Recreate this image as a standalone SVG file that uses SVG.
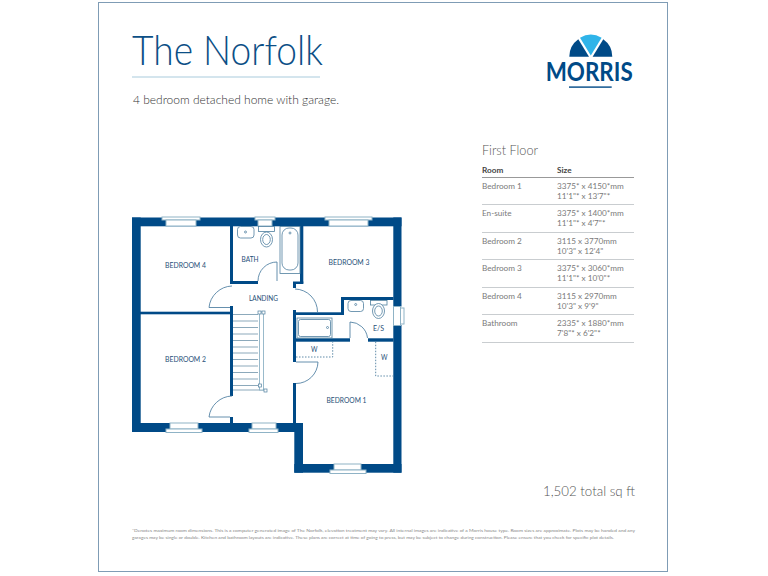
<svg xmlns="http://www.w3.org/2000/svg" width="768" height="576" viewBox="0 0 768 576">
<style>
text{font-family:"Lato","Noto Sans","Liberation Sans",sans-serif}
.wall{fill:#004a87}
.fix{fill:#fff;stroke:#4f7f9f;stroke-width:.8}
.win{fill:#fff;stroke:#8fb3c6;stroke-width:1}
.door{fill:none;stroke:#3f7499;stroke-width:.8}
.tread{stroke:#7f9fb3;stroke-width:.9}
.dash{fill:none;stroke:#4f7f9f;stroke-width:.9;stroke-dasharray:1.5 1.5}
.lbl{font-size:7.6px;fill:#1f4f78}
.t{font-size:8.2px;fill:#7a7a7a}
.hd{font-size:8.2px;fill:#444;font-weight:700}
.rule{stroke:#c9cdd0;stroke-width:1}
</style>
<rect width="768" height="576" fill="#fff"/>
<rect x="98.500" y="2.500" width="569" height="569" fill="none" stroke="#7f9cb5" stroke-width="1"/>
<g id="header">
<text x="132" y="65" font-size="41" font-weight="300" fill="#0c4f86" textLength="191" lengthAdjust="spacingAndGlyphs">The Norfolk</text>
<line x1="132" y1="77" x2="320" y2="77" stroke="#a9cbdc" stroke-width="1"/>
<text x="133" y="104" font-size="12" font-weight="300" fill="#333" textLength="206" lengthAdjust="spacingAndGlyphs">4 bedroom detached home with garage.</text>
</g>
<g id="logo">
<path d="M569.300 56.700A21.500 21.500 0 0 1 578.300 39.300L589 56.700Z" fill="#004a87"/>
<path d="M612.300 56.700A21.500 21.500 0 0 0 603.300 39.300L592.600 56.700Z" fill="#004a87"/>
<path d="M580 37.700A21.500 21.500 0 0 1 601.600 37.700L590.800 55.500Z" fill="#2fb4e9"/>
<text x="545.700" y="81" font-size="26" font-weight="700" fill="#004a87" textLength="87" lengthAdjust="spacingAndGlyphs">MORRIS</text>
<rect x="569" y="86.400" width="42.700" height="1.400" fill="#004a87"/>
</g>
<g id="plan">
<g id="walls" class="wall">
<rect x="132" y="217.500" width="8.700" height="214.500"/>
<rect x="132" y="217.500" width="269.500" height="8.800"/>
<rect x="393.300" y="217.500" width="8.200" height="89"/>
<rect x="393.300" y="325" width="8.200" height="147.700"/>
<rect x="132" y="423" width="171" height="9"/>
<rect x="294.300" y="423" width="8.700" height="49.700"/>
<rect x="294.300" y="464" width="107.200" height="8.700"/>
<rect x="230" y="226" width="3" height="58"/>
<rect x="233" y="281" width="25" height="3"/>
<rect x="140" y="311.700" width="93" height="2.600"/>
<rect x="230" y="306" width="3" height="90"/>
<rect x="230" y="417" width="3" height="6"/>
<rect x="300" y="226" width="3.300" height="57.500"/>
<rect x="293" y="281.500" width="10.300" height="2.500"/>
<rect x="293" y="283" width="3" height="5"/>
<rect x="293" y="310" width="3" height="52"/>
<rect x="293" y="312.300" width="51" height="2.700"/>
<rect x="341" y="297" width="3" height="18"/>
<rect x="341" y="297" width="52.500" height="3"/>
<rect x="293" y="338.300" width="57" height="3.400"/>
<rect x="368" y="338.300" width="25.500" height="3.400"/>
<rect x="293" y="383" width="3" height="40"/>
</g>
<g id="windows">
<rect x="162" y="217" width="38" height="3" class="win"/><rect x="166" y="220" width="30" height="6" class="win"/>
<rect x="255" y="217" width="20" height="3" class="win"/><rect x="258" y="220" width="14" height="6" class="win"/>
<rect x="325" y="217" width="47" height="3" class="win"/><rect x="329" y="220" width="39" height="6" class="win"/>
<rect x="393.500" y="306.500" width="7" height="19" class="win"/><rect x="400.500" y="308" width="3.500" height="16" class="win"/>
<rect x="170" y="423" width="28" height="6" class="win"/><rect x="166" y="429" width="36" height="3.500" class="win"/>
<rect x="252" y="423" width="24" height="6" class="win"/><rect x="249" y="429" width="29" height="3.500" class="win"/>
<rect x="334" y="464" width="27" height="6" class="win"/><rect x="330" y="470" width="36" height="3.500" class="win"/>
</g>
<g id="doors">
<path class="door" d="M232 286A24 24 0 0 0 209 307.500H230"/>
<path class="door" d="M258 281A19 19 0 0 1 277 262V281"/>
<path class="door" d="M295 289A23 23 0 0 1 317.500 312"/>
<path class="door" d="M350 338V322A18 18 0 0 1 367.500 338"/>
<path class="door" d="M296 362H318A22 22 0 0 1 296 383.500"/>
<path class="door" d="M232 396A24 24 0 0 0 209 417H230"/>
</g>
<g id="stairs">
<path class="tread" d="M233 314.500H258M233 321H258M233 327.500H258M233 334H258M233 340.500H258M233 347H258M233 353H258M233 359.500H258M233 366H258M233 372.500H258M233 379H258M233 385.500H258M233 390H264"/>
<rect x="259.500" y="312" width="4" height="78" fill="#fff" stroke="#8fb3c6" stroke-width=".9"/>
<rect x="258" y="311" width="3" height="3" fill="#fff" stroke="#4f7f9f" stroke-width=".7"/>
<rect x="262" y="311" width="3" height="3" fill="#fff" stroke="#4f7f9f" stroke-width=".7"/>
<rect x="258.500" y="384" width="3" height="3" fill="#fff" stroke="#4f7f9f" stroke-width=".7"/>
<rect x="264" y="389" width="3" height="3" fill="#fff" stroke="#4f7f9f" stroke-width=".7"/>
</g>
<g id="fixtures">
<rect class="fix" x="237.500" y="226.500" width="16.500" height="11.500" rx="3"/>
<circle class="fix" cx="245.500" cy="232" r="1"/>
<rect class="fix" x="258.500" y="226.500" width="16" height="5"/>
<ellipse class="fix" cx="266.500" cy="239.500" rx="6" ry="7.500"/><ellipse class="fix" cx="266.500" cy="239.500" rx="3.800" ry="5"/>
<rect class="fix" x="280" y="226.500" width="20" height="47"/>
<rect class="fix" x="282" y="228" width="16" height="42" rx="7"/>
<circle class="fix" cx="290" cy="233" r="1"/>
<rect class="fix" x="348" y="300.500" width="15.500" height="11" rx="3"/>
<circle class="fix" cx="355.700" cy="304.500" r="1"/>
<rect class="fix" x="370.500" y="300.500" width="16.500" height="4.500"/>
<ellipse class="fix" cx="378.500" cy="311" rx="6" ry="7.500"/><ellipse class="fix" cx="378.500" cy="311" rx="3.800" ry="5"/>
<rect class="fix" x="297" y="318" width="35" height="20"/>
<rect class="fix" x="298.500" y="319.500" width="32" height="17" rx="2"/>
<circle class="fix" cx="327.500" cy="327.500" r="1"/>
<path class="dash" d="M296 357H332.700V341.700"/>
<path class="dash" d="M375.700 341.700V376H393.300"/>
</g>
<g id="labels">
<text class="lbl" x="165" y="268" textLength="41" lengthAdjust="spacingAndGlyphs">BEDROOM 4</text>
<text class="lbl" x="241.500" y="261.500" textLength="17" lengthAdjust="spacingAndGlyphs">BATH</text>
<text class="lbl" x="249" y="300.500" textLength="29" lengthAdjust="spacingAndGlyphs">LANDING</text>
<text class="lbl" x="328.500" y="265" textLength="41" lengthAdjust="spacingAndGlyphs">BEDROOM 3</text>
<text class="lbl" x="373" y="331" textLength="11" lengthAdjust="spacingAndGlyphs">E/S</text>
<text class="lbl" x="311" y="352" textLength="6.500" lengthAdjust="spacingAndGlyphs">W</text>
<text class="lbl" x="381" y="360" textLength="6.500" lengthAdjust="spacingAndGlyphs">W</text>
<text class="lbl" x="165" y="362" textLength="41" lengthAdjust="spacingAndGlyphs">BEDROOM 2</text>
<text class="lbl" x="326.500" y="403" textLength="40" lengthAdjust="spacingAndGlyphs">BEDROOM 1</text>
</g>
</g>
<g id="schedule">
<text x="482" y="155" font-size="13.500" font-weight="300" fill="#555" textLength="56" lengthAdjust="spacingAndGlyphs">First Floor</text>
<text class="hd" x="482" y="173">Room</text><text class="hd" x="557" y="173">Size</text>
<line class="rule" x1="482" y1="177.500" x2="634" y2="177.500" style="stroke:#999"/>
<text class="t" x="482" y="188.500">Bedroom 1</text><text class="t" x="557" y="188.500">3375* x 4150*mm</text><text class="t" x="557" y="198.500">11'1"* x 13'7"*</text>
<line class="rule" x1="482" y1="204.500" x2="634" y2="204.500"/>
<text class="t" x="482" y="216">En-suite</text><text class="t" x="557" y="216">3375* x 1400*mm</text><text class="t" x="557" y="226">11'1"* x 4'7"*</text>
<line class="rule" x1="482" y1="232.500" x2="634" y2="232.500"/>
<text class="t" x="482" y="243.500">Bedroom 2</text><text class="t" x="557" y="243.500">3115 x 3770mm</text><text class="t" x="557" y="253.500">10'3" x 12'4"</text>
<line class="rule" x1="482" y1="259.500" x2="634" y2="259.500"/>
<text class="t" x="482" y="271">Bedroom 3</text><text class="t" x="557" y="271">3375* x 3060*mm</text><text class="t" x="557" y="281">11'1"* x 10'0"*</text>
<line class="rule" x1="482" y1="287.500" x2="634" y2="287.500"/>
<text class="t" x="482" y="298.500">Bedroom 4</text><text class="t" x="557" y="298.500">3115 x 2970mm</text><text class="t" x="557" y="308.500">10'3" x 9'9"</text>
<line class="rule" x1="482" y1="314.500" x2="634" y2="314.500"/>
<text class="t" x="482" y="326">Bathroom</text><text class="t" x="557" y="326">2335* x 1880*mm</text><text class="t" x="557" y="336">7'8"* x 6'2"*</text>
<line class="rule" x1="482" y1="342.500" x2="634" y2="342.500"/>
</g>
<text x="543" y="496" font-size="13" font-weight="300" fill="#555" textLength="92" lengthAdjust="spacingAndGlyphs">1,502 total sq ft</text>
<g id="footer" font-size="3.900" fill="#888">
<text x="132" y="532" textLength="503" lengthAdjust="spacingAndGlyphs">*Denotes maximum room dimensions. This is a computer generated image of The Norfolk, elevation treatment may vary. All internal images are indicative of a Morris house type. Room sizes are approximate. Plots may be handed and any</text>
<text x="132" y="539" textLength="482" lengthAdjust="spacingAndGlyphs">garages may be single or double. Kitchen and bathroom layouts are indicative. These plans are correct at time of going to press, but may be subject to change during construction. Please ensure that you check for specific plot details.</text>
</g>
</svg>
